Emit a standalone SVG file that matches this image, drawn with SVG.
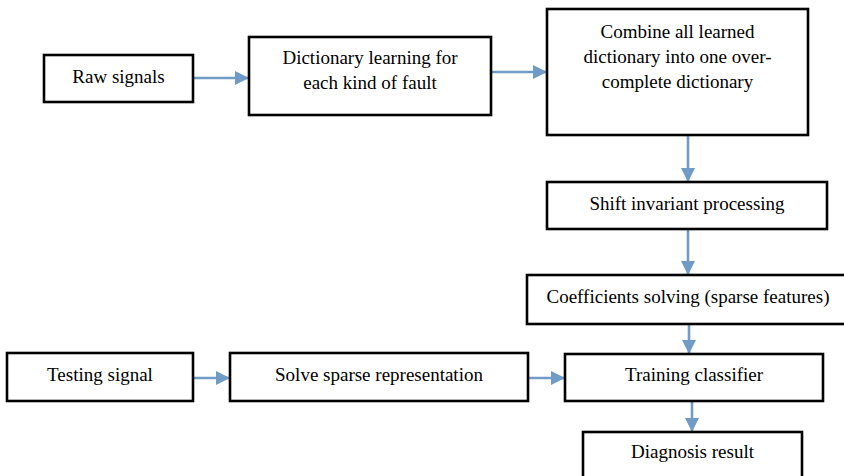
<svg xmlns="http://www.w3.org/2000/svg" width="844" height="476" viewBox="0 0 844 476">
<style>
.box{fill:#fff;stroke:#000;stroke-width:2.6}
.lbl{font-family:"Liberation Serif","Times New Roman",serif;font-size:19px;fill:#000;text-anchor:middle}
.con{stroke:#6f9bc6;stroke-width:2.6;fill:none}
</style>
<defs>
<marker id="ah" markerUnits="userSpaceOnUse" markerWidth="16" markerHeight="14" refX="14" refY="7" orient="auto">
<path d="M0,0 L14,7 L0,14 Z" fill="#6f9bc6"/>
</marker>
</defs>
<rect width="844" height="476" fill="#fff"/>
<g id="connectors">
<line class="con" x1="193" y1="78" x2="249" y2="78" marker-end="url(#ah)"/>
<line class="con" x1="491" y1="72" x2="547" y2="72" marker-end="url(#ah)"/>
<line class="con" x1="688" y1="135" x2="688" y2="182" marker-end="url(#ah)"/>
<line class="con" x1="688" y1="229" x2="688" y2="275" marker-end="url(#ah)"/>
<line class="con" x1="689" y1="325" x2="689" y2="354" marker-end="url(#ah)"/>
<line class="con" x1="692" y1="401" x2="692" y2="432" marker-end="url(#ah)"/>
<line class="con" x1="193" y1="378" x2="230" y2="378" marker-end="url(#ah)"/>
<line class="con" x1="528" y1="378" x2="565" y2="378" marker-end="url(#ah)"/>
</g>
<g id="raw">
<rect class="box" x="44" y="55" width="149" height="47"/>
<text class="lbl" x="118.5" y="83">Raw signals</text>
</g>
<g id="dict">
<rect class="box" x="249" y="37" width="242" height="78"/>
<text class="lbl" x="370" y="64">Dictionary learning for</text>
<text class="lbl" x="370" y="89">each kind of fault</text>
</g>
<g id="combine">
<rect class="box" x="547" y="9" width="261" height="126"/>
<text class="lbl" x="677.5" y="38">Combine all learned</text>
<text class="lbl" x="677.5" y="63">dictionary into one over-</text>
<text class="lbl" x="677.5" y="88">complete dictionary</text>
</g>
<g id="shift">
<rect class="box" x="547" y="182" width="280" height="47"/>
<text class="lbl" x="687" y="210">Shift invariant processing</text>
</g>
<g id="coeff">
<rect class="box" x="527" y="275" width="322" height="49"/>
<text class="lbl" x="688" y="303">Coefficients solving (sparse features)</text>
</g>
<g id="training">
<rect class="box" x="565" y="354" width="258" height="47"/>
<text class="lbl" x="694" y="381">Training classifier</text>
</g>
<g id="diagnosis">
<rect class="box" x="583" y="432" width="219" height="60"/>
<text class="lbl" x="692.5" y="458">Diagnosis result</text>
</g>
<g id="testing">
<rect class="box" x="7" y="353" width="186" height="48"/>
<text class="lbl" x="100" y="381">Testing signal</text>
</g>
<g id="solve">
<rect class="box" x="230" y="353" width="298" height="48"/>
<text class="lbl" x="379" y="381">Solve sparse representation</text>
</g>
</svg>
